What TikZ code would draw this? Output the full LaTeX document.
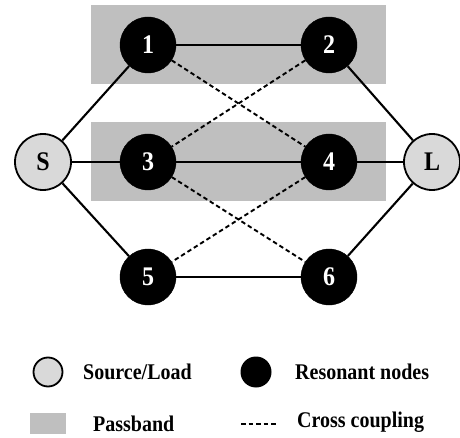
\documentclass[tikz,border=0pt]{standalone}
\usepackage{fontspec}
\setmainfont{Liberation Serif}
\newcommand{\tallbf}[1]{\scalebox{1}[1.12]{#1}}
\begin{document}
\begin{tikzpicture}[x=1pt,y=-1pt,
  band/.style={fill=bandgray,draw=none},
  res/.style={circle,fill=black,draw=black,minimum size=56pt,inner sep=0pt,
    text=white,font=\fontsize{24}{24}\selectfont\bfseries},
  port/.style={circle,fill=portgray,draw=black,line width=1.8pt,minimum size=56pt,inner sep=0pt,
    font=\fontsize{24}{24}\selectfont\bfseries},
  coup/.style={line width=2.1pt},
  cross/.style={line width=1.9pt,dash pattern=on 4.5pt off 3pt},
  lbl/.style={font=\fontsize{20}{20}\selectfont\bfseries,inner sep=0pt},
]
\definecolor{bandgray}{gray}{0.75}
\definecolor{portgray}{gray}{0.85}
\useasboundingbox (0,0) rectangle (460,438);

% passbands
\fill[band] (91,5) rectangle (386,84);
\fill[band] (91,122) rectangle (386,201);

% resonators and ports
\node[res] (n1) at (148,45) {\tallbf{1}};
\node[res] (n2) at (329,45) {\tallbf{2}};
\node[res] (n3) at (148,162) {\tallbf{3}};
\node[res] (n4) at (329,162) {\tallbf{4}};
\node[res] (n5) at (148,277) {\tallbf{5}};
\node[res] (n6) at (329,277) {\tallbf{6}};
\node[port] (S) at (43,162) {\tallbf{S}};
\node[port] (L) at (432,162) {\tallbf{L}};

% main couplings
\draw[coup] (S) -- (n1);
\draw[coup] (S) -- (n3);
\draw[coup] (S) -- (n5);
\draw[coup] (n1) -- (n2);
\draw[coup] (n3) -- (n4);
\draw[coup] (n5) -- (n6);
\draw[coup] (n2) -- (L);
\draw[coup] (n4) -- (L);
\draw[coup] (n6) -- (L);
% cross couplings
\draw[cross] (n1) -- (n4);
\draw[cross] (n2) -- (n3);
\draw[cross] (n3) -- (n6);
\draw[cross] (n4) -- (n5);

% legend
\node[circle,fill=portgray,draw=black,line width=1.8pt,minimum size=29pt,inner sep=0pt] (lgport) at (48,372) {};
\node[lbl,anchor=west] (lgportt) at (83,372) {\tallbf{Source/Load}};
\node[circle,fill=black,minimum size=31pt,inner sep=0pt] (lgres) at (256,372) {};
\node[lbl,anchor=west] (lgrest) at (295,372) {\tallbf{Resonant nodes}};
\node[fill=bandgray,minimum width=36pt,minimum height=21pt,inner sep=0pt] (lgband) at (48,423.5) {};
\node[lbl,anchor=west] (lgbandt) at (93,424) {\tallbf{Passband}};
\coordinate (lga) at (241,424);
\coordinate (lgb) at (276,424);
\draw[cross] (lga) -- (lgb);
\node[lbl,anchor=west] (lgcrosst) at (297,422) {\tallbf{Cross coupling}};
\end{tikzpicture}
\end{document}
